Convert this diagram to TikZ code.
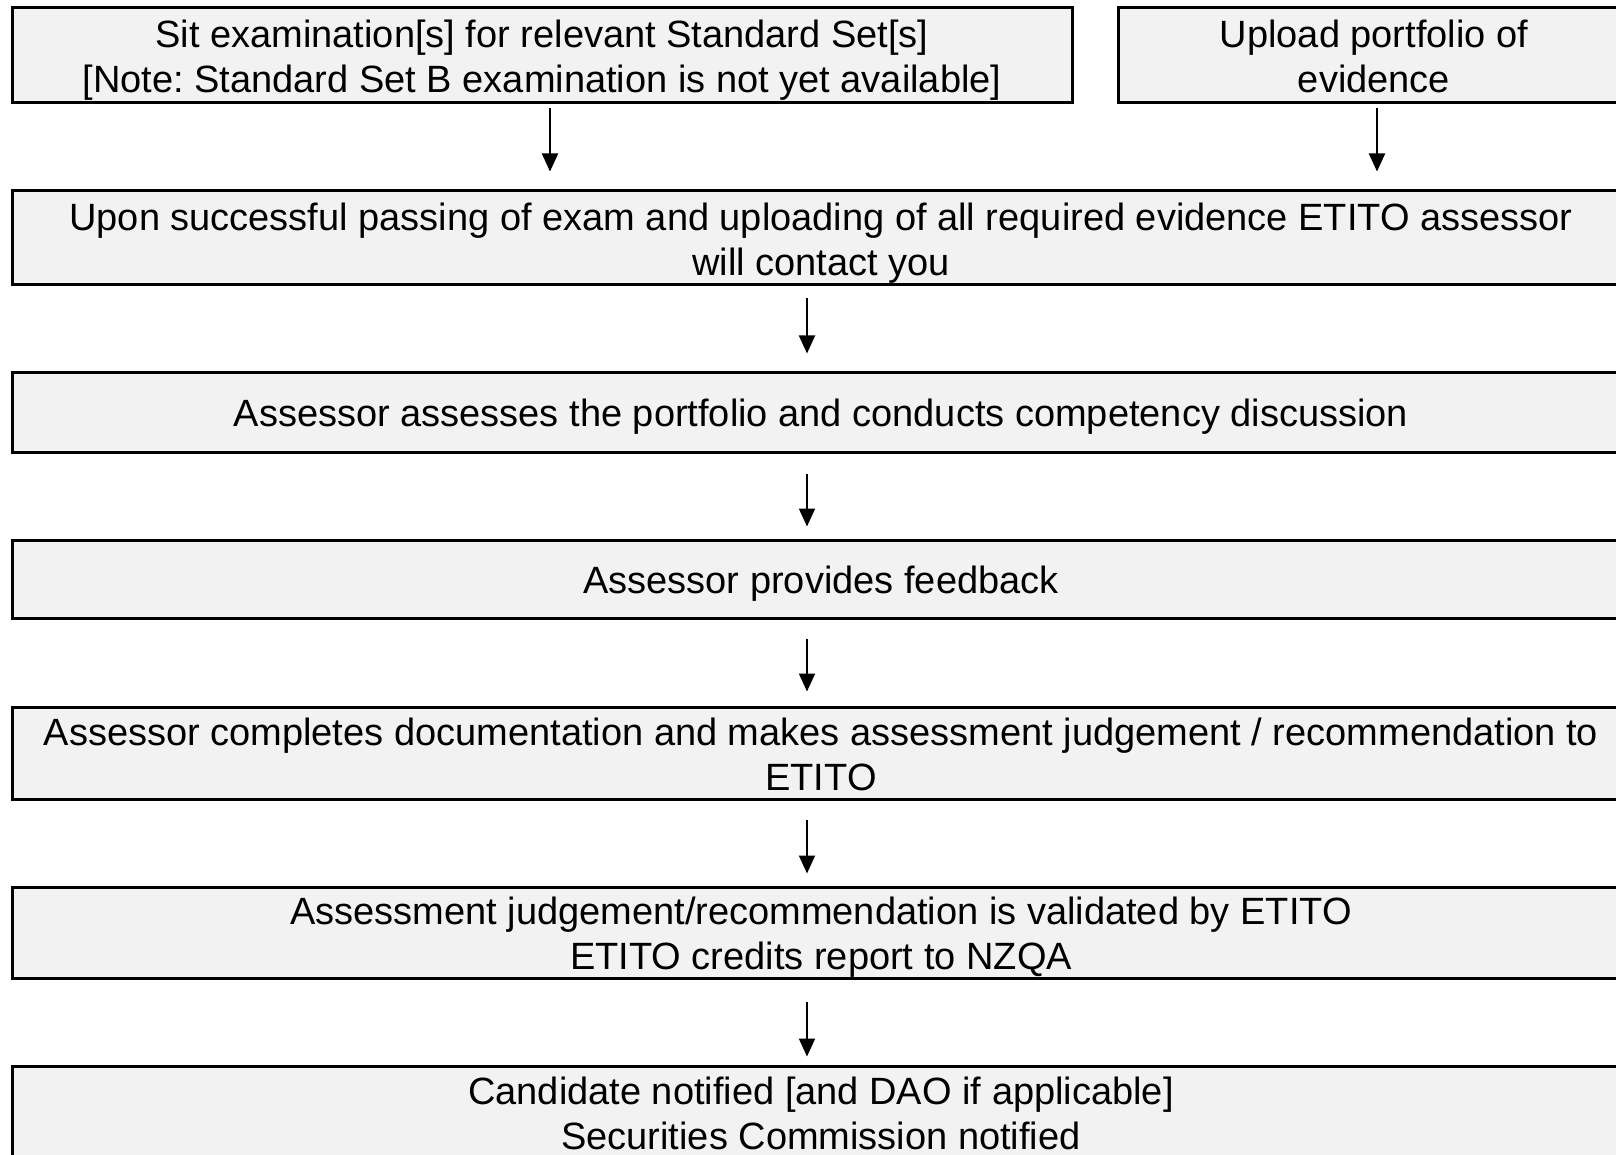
\documentclass[tikz,border=0pt]{standalone}
\usepackage{fontspec}
\setmainfont{Liberation Sans}
\usetikzlibrary{arrows.meta}
\definecolor{boxfill}{HTML}{F2F2F2}
\newcommand\mytopstrut{\rule{0pt}{37.7pt}}
\newcommand\mybotstrut{\rule[-8pt]{0pt}{8pt}}
\tikzset{
  box/.style={draw=black, line width=3pt, fill=boxfill, inner sep=0pt, align=center,
    font=\fontsize{38}{45}\selectfont\frenchspacing},
  arr/.style={line width=2pt, -{Triangle[length=18pt,width=16pt]}}
}
\begin{document}
\begin{tikzpicture}[x=1pt,y=-1pt]
\clip (0,0) rectangle (1616,1155);
\fill[white] (0,0) rectangle (1616,1155);
\node[box, minimum width=1060pt, minimum height=95pt] (b1) at (542,55.5)
  {\mytopstrut Sit examination[s] for relevant Standard Set[s]\\{[Note: Standard Set B examination is not yet available]}\mybotstrut};
\node[box, minimum width=512pt, minimum height=95pt] (b2) at (1374,55.5)
  {\mytopstrut Upload portfolio of\\evidence\mybotstrut};
\node[box, minimum width=1618pt, minimum height=94pt] (b3) at (821,238)
  {\mytopstrut Upon successful passing of exam and uploading of all required evidence ETITO assessor\\will contact you\mybotstrut};
\node[box, minimum width=1618pt, minimum height=80pt] (b4) at (821,412)
  {\mytopstrut Assessor assesses the portfolio and conducts competency discussion\mybotstrut};
\node[box, minimum width=1618pt, minimum height=78pt] (b5) at (821,579)
  {\mytopstrut Assessor provides feedback\mybotstrut};
\node[box, minimum width=1618pt, minimum height=92pt] (b6) at (821,753)
  {\mytopstrut Assessor completes documentation and makes assessment judgement / recommendation to\\ETITO\mybotstrut};
\node[box, minimum width=1618pt, minimum height=91pt] (b7) at (821,932.5)
  {\mytopstrut Assessment judgement/recommendation is validated by ETITO\\ETITO credits report to NZQA\mybotstrut};
\node[box, minimum width=1618pt, minimum height=93pt] (b8) at (821,1112.5)
  {\mytopstrut Candidate notified [and DAO if applicable]\\Securities Commission notified\mybotstrut};
\coordinate (xa) at (550,0);
\coordinate (xb) at (1377,0);
\coordinate (xc) at (807,0);
\draw[arr, shorten <=4pt, shorten >=18pt] (b1.south -| xa) -- (b3.north -| xa);
\draw[arr, shorten <=4pt, shorten >=18pt] (b2.south -| xb) -- (b3.north -| xb);
\draw[arr, shorten <=12pt, shorten >=17pt] (b3.south -| xc) -- (b4.north -| xc);
\draw[arr, shorten <=20pt, shorten >=12pt] (b4.south -| xc) -- (b5.north -| xc);
\draw[arr, shorten <=19pt, shorten >=14pt] (b5.south -| xc) -- (b6.north -| xc);
\draw[arr, shorten <=19pt, shorten >=12pt] (b6.south -| xc) -- (b7.north -| xc);
\draw[arr, shorten <=22pt, shorten >=8pt] (b7.south -| xc) -- (b8.north -| xc);
\end{tikzpicture}
\end{document}
